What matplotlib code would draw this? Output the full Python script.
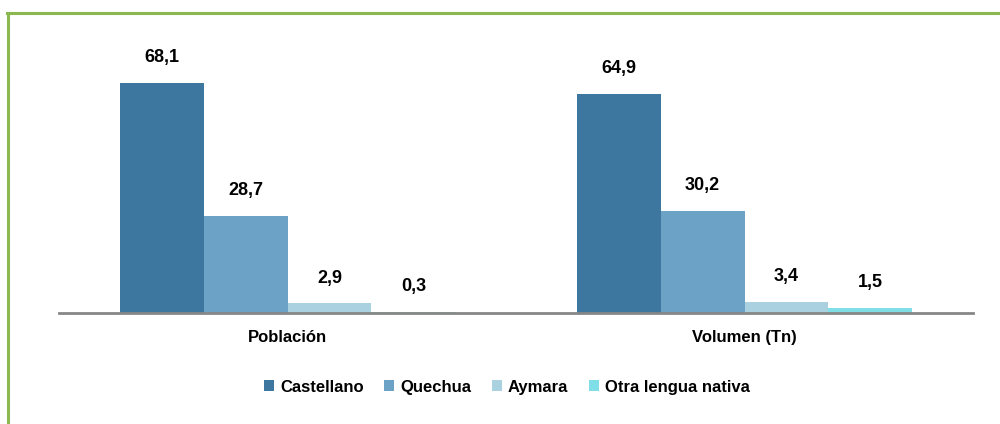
import numpy as np
import matplotlib.pyplot as plt
from matplotlib.lines import Line2D

categories = ['Población', 'Volumen (Tn)']
series_names = ['Castellano', 'Quechua', 'Aymara', 'Otra lengua nativa']
castellano = [68.1, 64.9]
quechua = [28.7, 30.2]
aymara = [2.9, 3.4]
otra = [0.3, 1.5]
colors = ['#3D77A0', '#6DA2C7', '#AAD1E0', '#80DEE6']

plt.rcParams['font.family'] = ['Liberation Sans Narrow', 'Liberation Sans', 'DejaVu Sans']

fig = plt.figure(figsize=(10, 4.24), dpi=100)
ax = fig.add_axes([0.059, 0.2618, 0.914, 0.637])

x = np.arange(len(categories))
n = len(series_names)
w = 0.735 / n
for i, (name, vals) in enumerate(zip(series_names, [castellano, quechua, aymara, otra])):
    pos = x - 0.735 / 2 + w * (i + 0.5)
    ax.bar(pos, vals, w, color=colors[i], label=name)
    for px, v in zip(pos, vals):
        ax.annotate(f'{v:.1f}'.replace('.', ','), (px, v), xytext=(0, 12),
                    textcoords='offset points', ha='center', va='bottom',
                    fontsize=13, fontweight='bold')

ax.set_xlim(-0.5, 1.5)
ax.set_ylim(0, 80)
ax.set_yticks([])
ax.set_xticks(x)
ax.set_xticklabels(categories, fontsize=12, fontweight='bold')
ax.tick_params(axis='x', length=0, pad=12)
for s in ['top', 'right', 'left']:
    ax.spines[s].set_visible(False)
ax.spines['bottom'].set_color('#878787')
ax.spines['bottom'].set_linewidth(2)

fig.legend(loc='center', bbox_to_anchor=(0.507, 0.087), ncol=4, frameon=False,
           handlelength=0.6, handleheight=0.6, handletextpad=0.35, columnspacing=1.25,
           prop={'size': 12, 'weight': 'bold'})

green = '#8BB84F'
fig.add_artist(Line2D([0.008, 0.008], [0, 0.9693], color=green, lw=2.2, transform=fig.transFigure))
fig.add_artist(Line2D([0.007, 1.0], [0.9693, 0.9693], color=green, lw=2.2, transform=fig.transFigure))

fig.savefig('out.png', dpi=100)
